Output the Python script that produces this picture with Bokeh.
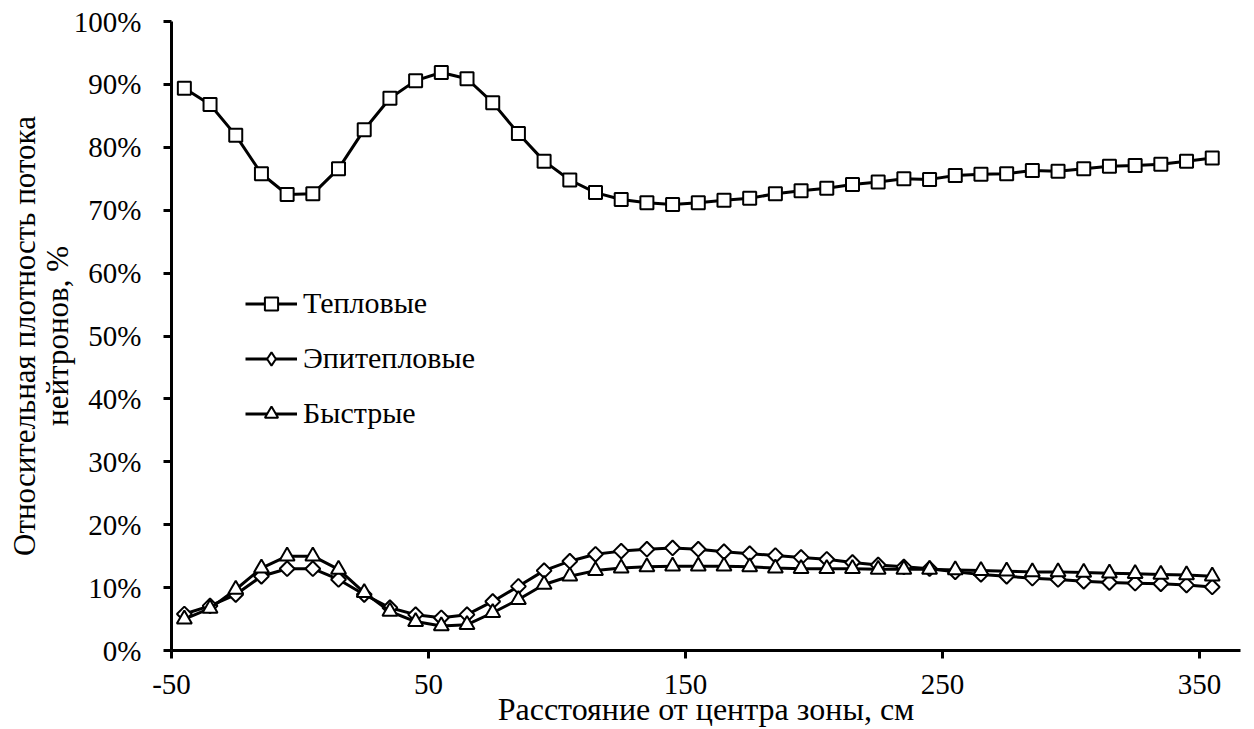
from bokeh.plotting import figure
from bokeh.models import Legend, LegendItem, FixedTicker, NumeralTickFormatter, Range1d
from bokeh.embed import file_html
from bokeh.resources import INLINE
import math

# --- data ---
distance_cm = [-45, -35, -25, -15, -5, 5, 15, 25, 35, 45, 55, 65, 75, 85, 95, 105, 115, 125,
               135, 145, 155, 165, 175, 185, 195, 205, 215, 225, 235, 245, 255, 265, 275, 285,
               295, 305, 315, 325, 335, 345, 355]

thermal_pct = [89.4, 86.8, 81.9, 75.8, 72.5, 72.6, 76.6, 82.8, 87.8, 90.6, 91.9, 90.9, 87.1, 82.2, 77.8,
               74.8, 72.8, 71.7, 71.2, 70.9, 71.2, 71.6, 71.9, 72.6, 73.1, 73.5, 74.1, 74.5, 75.0,
               74.9, 75.5, 75.7, 75.8, 76.3, 76.2, 76.6, 77.0, 77.1, 77.3, 77.8, 78.3]

epithermal_pct = [5.8, 7.1, 8.9, 11.8, 13.0, 13.0, 11.3, 8.9, 6.8, 5.7, 5.2, 5.7, 7.8, 10.2, 12.7,
                  14.2, 15.3, 15.8, 16.1, 16.3, 16.1, 15.7, 15.4, 15.1, 14.8, 14.5, 14.0, 13.6,
                  13.3, 13.0, 12.5, 12.1, 11.8, 11.5, 11.3, 11.0, 10.8, 10.7, 10.6, 10.4, 10.1]

fast_pct = [5.0, 6.7, 9.7, 13.1, 15.0, 15.0, 12.9, 9.2, 6.2, 4.6, 3.9, 4.1, 6.0, 8.1, 10.5,
            11.8, 12.7, 13.1, 13.3, 13.4, 13.4, 13.4, 13.3, 13.1, 13.0, 13.0, 13.0, 12.9, 12.9,
            12.9, 12.8, 12.7, 12.6, 12.5, 12.5, 12.4, 12.3, 12.2, 12.1, 12.0, 11.8]

series_names = ["Тепловые", "Эпитепловые", "Быстрые"]
x_ticks = [-50, 50, 150, 250, 350]
x_tick_labels = {-50: "-50", 50: "50", 150: "150", 250: "250", 350: "350"}
y_ticks = [0.0, 0.1, 0.2, 0.3, 0.4, 0.5, 0.6, 0.7, 0.8, 0.9, 1.0]
x_title = "Расстояние от центра зоны, см"
y_title = "Относительная плотность потока\nнейтронов, %"

FONT = "'Liberation Serif', 'Times New Roman', serif"

thermal = [v / 100 for v in thermal_pct]
epithermal = [v / 100 for v in epithermal_pct]
fast = [v / 100 for v in fast_pct]

p = figure(width=1254, height=729, output_backend="svg", toolbar_location=None,
           x_range=Range1d(-50, 366), y_range=Range1d(0, 1),
           min_border_left=171, min_border_right=14, min_border_top=21, min_border_bottom=78)
p.outline_line_color = None
p.xgrid.visible = False
p.ygrid.visible = False
p.background_fill_color = "white"
p.border_fill_color = "white"

# lines + markers
l1 = p.line(distance_cm, thermal, line_color="black", line_width=3)
m1 = p.scatter(distance_cm, thermal, marker="square", size=13, fill_color="white",
               line_color="black", line_width=2)
l2 = p.line(distance_cm, epithermal, line_color="black", line_width=3)
m2 = p.scatter(distance_cm, epithermal, marker="square", angle=math.pi / 4, size=10.5,
               fill_color="white", line_color="black", line_width=2)
m2_key = p.scatter(distance_cm, epithermal, marker="diamond", size=16, fill_color="white",
                   line_color="black", line_width=2, visible=False)
l3 = p.line(distance_cm, fast, line_color="black", line_width=3)
m3 = p.scatter(distance_cm, fast, marker="triangle", size=15, fill_color="white",
               line_color="black", line_width=2)

# axes
for ax in (p.xaxis[0], p.yaxis[0]):
    ax.axis_line_color = "black"
    ax.axis_line_width = 3
    ax.major_tick_line_color = "black"
    ax.major_tick_line_width = 3
    ax.major_tick_out = 8
    ax.major_tick_in = 0
    ax.minor_tick_line_color = None
    ax.major_label_text_font = FONT
    ax.major_label_text_font_size = "29px"
    ax.major_label_text_color = "black"
    ax.axis_label_text_font = FONT
    ax.axis_label_text_font_size = "32px"
    ax.axis_label_text_font_style = "normal"
    ax.axis_label_text_color = "black"

p.xaxis.ticker = FixedTicker(ticks=x_ticks)
p.xaxis.major_label_overrides = x_tick_labels
p.xaxis.axis_label = x_title
p.xaxis.major_label_standoff = 16
p.xaxis.axis_label_standoff = -6

p.yaxis.ticker = FixedTicker(ticks=y_ticks)
p.yaxis.formatter = NumeralTickFormatter(format="0%")
p.yaxis.axis_label = y_title
p.yaxis.axis_label_text_font_size = "31px"
p.yaxis.axis_label_text_line_height = 0.93
p.yaxis.major_label_standoff = 22
p.yaxis.axis_label_standoff = -4

legend = Legend(items=[
    LegendItem(label=series_names[0], renderers=[l1, m1]),
    LegendItem(label=series_names[1], renderers=[l2, m2_key]),
    LegendItem(label=series_names[2], renderers=[l3, m3]),
], location=(74, 220))
legend.label_text_font = FONT
legend.label_text_font_size = "30px"
legend.label_text_color = "black"
legend.glyph_width = 52
legend.glyph_height = 33
legend.label_height = 33
legend.spacing = 21
legend.padding = 0
legend.margin = 0
legend.label_standoff = 6
legend.background_fill_alpha = 0
legend.border_line_color = None
p.add_layout(legend)

open("out.html", "w").write(file_html(p, INLINE))
